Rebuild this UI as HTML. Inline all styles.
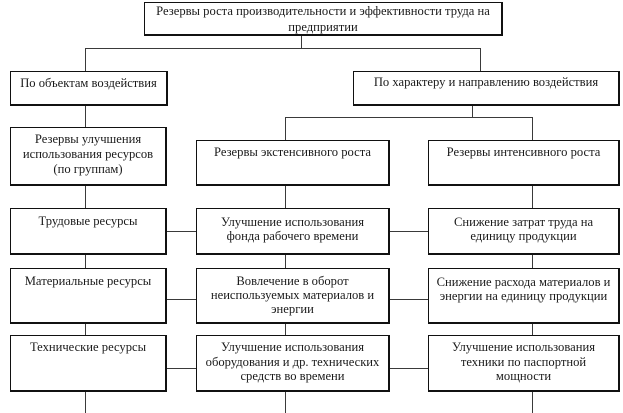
<!DOCTYPE html>
<html>
<head>
<meta charset="utf-8">
<style>
  html,body{margin:0;padding:0;background:#fff;}
  body{width:623px;height:413px;position:relative;overflow:hidden;
       font-family:"Liberation Serif","Noto Serif CJK SC",serif;color:#1a1a1a;}
  .b{position:absolute;box-sizing:border-box;background:#fff;
     border:1px solid #111;border-right-width:2px;border-bottom-width:2px;
     text-align:center;font-size:12.6px;line-height:14px;padding-top:4px;white-space:nowrap;}
  .h{position:absolute;height:1px;background:#3a3a3a;}
  .v{position:absolute;width:1px;background:#3a3a3a;}
</style>
</head>
<body>
<!-- connectors -->
<div class="v" style="left:301px;top:35px;height:13px"></div>
<div class="h" style="left:85px;top:48px;width:396px"></div>
<div class="v" style="left:85px;top:48px;height:365px"></div>
<div class="v" style="left:480px;top:48px;height:23px"></div>
<div class="v" style="left:472px;top:105px;height:12px"></div>
<div class="h" style="left:285px;top:117px;width:248px"></div>
<div class="v" style="left:285px;top:117px;height:296px"></div>
<div class="v" style="left:532px;top:117px;height:296px"></div>
<div class="h" style="left:166px;top:231px;width:262px"></div>
<div class="h" style="left:166px;top:299px;width:262px"></div>
<div class="h" style="left:166px;top:368px;width:262px"></div>

<!-- boxes -->
<div class="b" style="left:144px;top:2px;width:359px;height:34px;line-height:16px;padding-top:0px">Резервы роста производительности и эффективности труда на<br>предприятии</div>

<div class="b" style="left:10px;top:71px;width:158px;height:35px;line-height:15px;padding-top:4px">По объектам воздействия</div>
<div class="b" style="left:353px;top:71px;width:267px;height:35px;line-height:15px;padding-top:3px">По характеру и направлению воздействия</div>

<div class="b" style="left:10px;top:127px;width:157px;height:59px;line-height:15px;padding-top:4px">Резервы улучшения<br>использования ресурсов<br>(по группам)</div>
<div class="b" style="left:196px;top:140px;width:194px;height:46px;line-height:15px;padding-top:4px">Резервы экстенсивного роста</div>
<div class="b" style="left:428px;top:140px;width:192px;height:46px;line-height:15px;padding-top:4px">Резервы интенсивного роста</div>

<div class="b" style="left:10px;top:208px;width:157px;height:47px;padding-top:5px">Трудовые ресурсы</div>
<div class="b" style="left:196px;top:208px;width:194px;height:47px;padding-top:6px">Улучшение использования<br>фонда рабочего времени</div>
<div class="b" style="left:428px;top:208px;width:192px;height:47px;padding-top:6px">Снижение затрат труда на<br>единицу продукции</div>

<div class="b" style="left:10px;top:268px;width:157px;height:56px;padding-top:5px">Материальные ресурсы</div>
<div class="b" style="left:196px;top:268px;width:194px;height:56px;padding-top:5px">Вовлечение в оборот<br>неиспользуемых материалов и<br>энергии</div>
<div class="b" style="left:428px;top:268px;width:192px;height:56px;padding-top:6px">Снижение расхода материалов и<br>энергии на единицу продукции</div>

<div class="b" style="left:10px;top:335px;width:157px;height:57px;padding-top:4px">Технические ресурсы</div>
<div class="b" style="left:196px;top:335px;width:194px;height:57px;padding-top:4px;line-height:14.5px">Улучшение использования<br>оборудования и др. технических<br>средств во времени</div>
<div class="b" style="left:428px;top:335px;width:192px;height:57px;padding-top:4px;line-height:14.5px">Улучшение использования<br>техники по паспортной<br>мощности</div>
</body>
</html>
